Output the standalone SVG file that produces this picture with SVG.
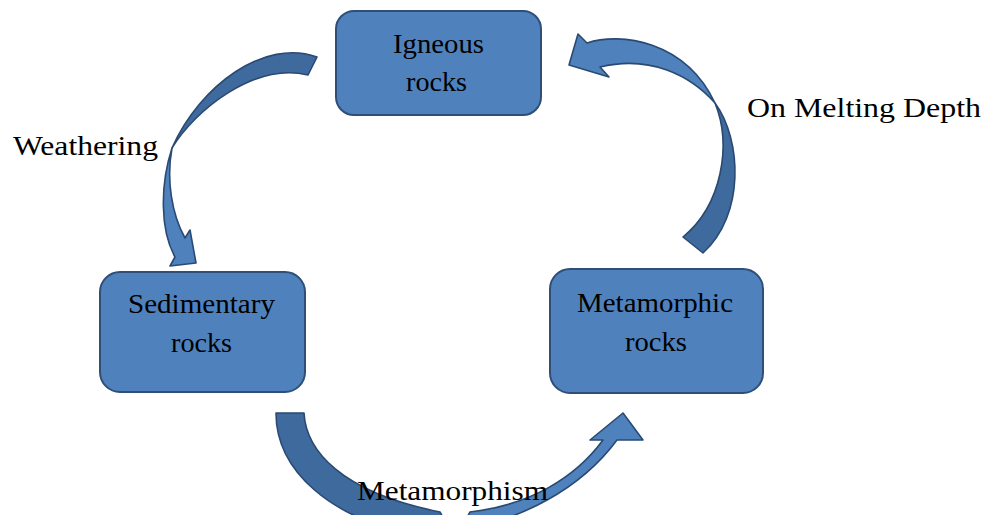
<svg xmlns="http://www.w3.org/2000/svg" width="994" height="515" viewBox="0 0 994 515">
<style>
.box{fill:#4F81BD;stroke:#2E4F78;stroke-width:2}
.lt{fill:#4F81BD;stroke:#2A4A72;stroke-width:1.6;stroke-linejoin:round}
.dk{fill:#3F6A9E;stroke:#2A4A72;stroke-width:1.6;stroke-linejoin:round}
text{font-family:"Liberation Serif","Times New Roman",serif;font-size:28px;fill:#000}
.c{text-anchor:middle}
</style>
<rect width="994" height="515" fill="#fff"/>
<g id="connectors">
  <g id="weathering-arrow">
    <path class="dk" d="M317,57 C265,38 200,85 172,148 C195,110 255,62 308,75 Z"/>
    <path class="lt" d="M172,148 C160,185 160,230 175,257 L170,266 L196,263 L190,230 L185,238 C172,215 166,180 172,148 Z"/>
  </g>
  <g id="melting-arrow">
    <path class="lt" d="M587,43 C620,32 685,40 715,103 C690,75 650,55 600,67 L609,77 L569,65 L578,34 Z"/>
    <path class="dk" d="M715,103 C742,140 745,215 703,253 L683,237 C722,205 732,145 715,103 Z"/>
  </g>
  <g id="metamorphism-arrow">
    <path class="dk" d="M276,413 L304,413 C306,450 340,492 440,512 L450,530 L420,535 C330,520 276,470 276,413 Z"/>
    <path class="lt" d="M460,530 C520,520 580,490 617,440 L643,440 L623,413 L590,440 L603,440 C575,478 530,505 470,512 Z"/>
  </g>
</g>
<g id="igneous">
  <rect class="box" x="336" y="11" width="205" height="104" rx="18"/>
  <text class="c" x="438.5" y="53" textLength="91" lengthAdjust="spacingAndGlyphs">Igneous</text>
  <text class="c" x="436.5" y="91" textLength="61" lengthAdjust="spacingAndGlyphs">rocks</text>
</g>
<g id="sedimentary">
  <rect class="box" x="100" y="272" width="205" height="120" rx="20"/>
  <text class="c" x="201.5" y="313" textLength="147" lengthAdjust="spacingAndGlyphs">Sedimentary</text>
  <text class="c" x="201.5" y="352" textLength="61" lengthAdjust="spacingAndGlyphs">rocks</text>
</g>
<g id="metamorphic">
  <rect class="box" x="550" y="269" width="213" height="124" rx="20"/>
  <text class="c" x="655" y="312" textLength="156" lengthAdjust="spacingAndGlyphs">Metamorphic</text>
  <text class="c" x="656" y="351" textLength="62" lengthAdjust="spacingAndGlyphs">rocks</text>
</g>
<g id="labels">
  <text x="13" y="155" textLength="145" lengthAdjust="spacingAndGlyphs">Weathering</text>
  <text x="747" y="117" textLength="234" lengthAdjust="spacingAndGlyphs">On Melting Depth</text>
  <text x="357" y="500" textLength="191" lengthAdjust="spacingAndGlyphs">Metamorphism</text>
</g>
</svg>
